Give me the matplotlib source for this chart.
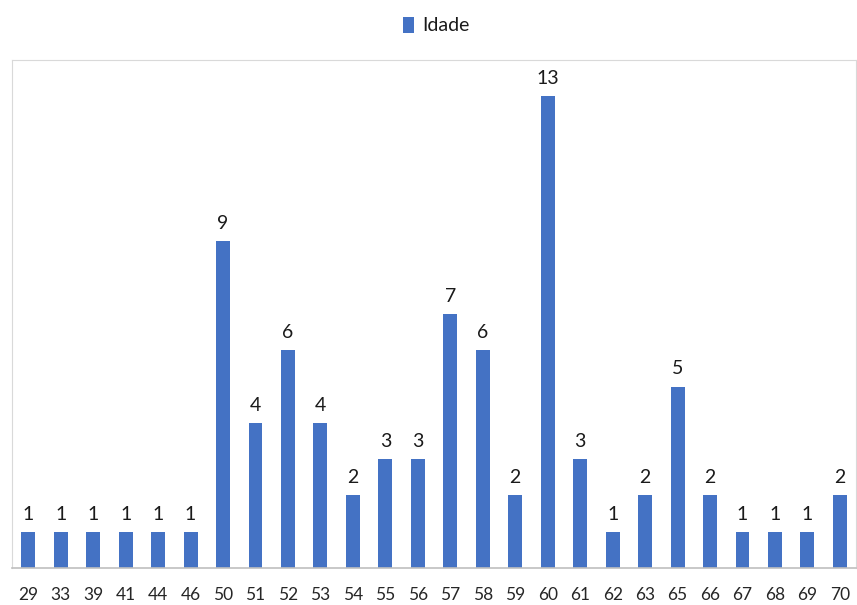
import numpy as np
import matplotlib.pyplot as plt

idades = ["29", "33", "39", "41", "44", "46", "50", "51", "52", "53", "54", "55", "56",
          "57", "58", "59", "60", "61", "62", "63", "65", "66", "67", "68", "69", "70"]
contagem = [1, 1, 1, 1, 1, 1, 9, 4, 6, 4, 2, 3, 3, 7, 6, 2, 13, 3, 1, 2, 5, 2, 1, 1, 1, 2]

plt.rcParams['font.family'] = ['Lato', 'DejaVu Sans']

fig = plt.figure(figsize=(8.57, 6.05), dpi=100)
ax = fig.add_axes([0.014, 0.0612, 0.985, 0.8397])

x = np.arange(len(idades))
bars = ax.bar(x, contagem, width=0.43, color="#4472C4", label="Idade")

# data labels above each bar
for xi, v in zip(x, contagem):
    ax.text(xi, v + 0.25, str(v), ha="center", va="bottom", fontsize=14, color="#1a1a1a")

ax.set_xlim(-0.5, len(idades) - 0.5)
ax.set_ylim(0, 14)
ax.set_xticks(x)
ax.set_xticklabels(idades, fontsize=12.5, color="#262626")
ax.set_yticks([])
ax.tick_params(axis="x", length=0, pad=14)

for side in ["left", "top", "right"]:
    ax.spines[side].set_color("#D9D9D9")
ax.spines["bottom"].set_color("#BFBFBF")
ax.spines["bottom"].set_linewidth(1.2)

fig.legend(handles=[bars], labels=["Idade"], loc="center", bbox_to_anchor=(0.509, 0.958),
           frameon=False, fontsize=14, handlelength=0.6, handleheight=0.9,
           handletextpad=0.4, labelcolor="#1a1a1a")

fig.savefig("out.png", dpi=100)
